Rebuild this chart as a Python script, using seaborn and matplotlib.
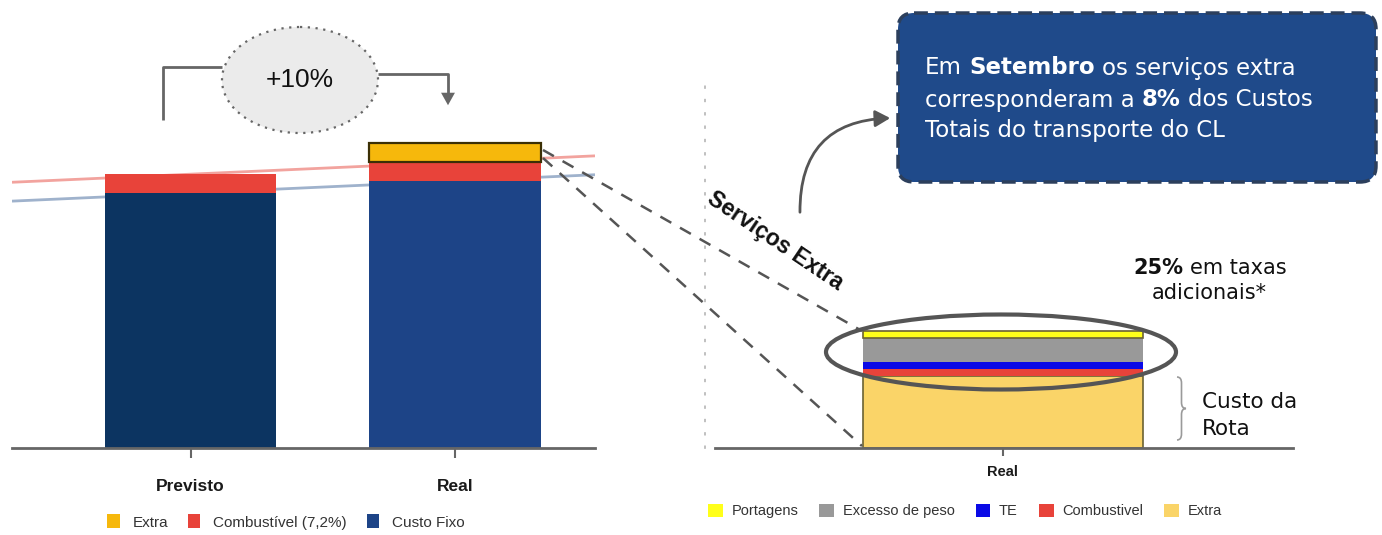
import numpy as np
import pandas as pd
import matplotlib
matplotlib.use("Agg")
import matplotlib.pyplot as plt
import seaborn as sns
from matplotlib.patches import Ellipse, FancyBboxPatch, FancyArrowPatch, Patch, PathPatch
from matplotlib.path import Path

# ---- Custos do transporte (índice: custo fixo previsto = 100) ----
cenarios = ["Previsto", "Real"]
custo_fixo = [100.0, 104.7]
combustivel = [7.4, 7.4]
extra = [0.0, 7.4]
legenda_esq = ["Extra", "Combustível (7,2%)", "Custo Fixo"]

# ---- Decomposição do mês real (de baixo para cima na pilha) ----
componentes = ["Extra", "Combustivel", "TE", "Excesso de peso", "Portagens"]
valores_comp = [72.0, 7.5, 7.0, 23.5, 7.0]
categoria_dir = ["Real"]
legenda_dir = ["Portagens", "Excesso de peso", "TE", "Combustivel", "Extra"]

# ---- Cores ----
cor_extra = "#f6b80c"
cor_comb = "#e8433a"
cores_fixo = {"Previsto": "#0c3461", "Real": "#1d4487"}
cores_comp = {"Portagens": "#ffff1a", "Excesso de peso": "#999999", "TE": "#0a0ae6",
              "Combustivel": "#e8433a", "Extra": "#fad468"}
cor_linha_verm = "#f2a39e"
cor_linha_azul = "#9fb2cc"

W, H = 1382, 535
sns.set_style("white")
plt.rcParams["font.family"] = ["Liberation Sans", "DejaVu Sans"]

fig = plt.figure(figsize=(W / 100, H / 100), dpi=100)


def px_axes(x0, y0, x1, y1):
    return fig.add_axes([x0 / W, 1 - y1 / H, (x1 - x0) / W, (y1 - y0) / H])


def barra(ax, cat, valor, base, cor, ordem, largura, borda=None, lw=0):
    sns.barplot(x=[cat], y=[valor], order=ordem, color=cor, saturation=1,
                width=largura, errorbar=None, bottom=base,
                edgecolor=borda if borda else "none", linewidth=lw, ax=ax)


# ================= gráfico da esquerda =================
axL = px_axes(12, 75, 595, 448)
wL = 0.647
for cen, fx, cb, ex in zip(cenarios, custo_fixo, combustivel, extra):
    barra(axL, cen, fx, 0, cores_fixo[cen], cenarios, wL)
    barra(axL, cen, cb, fx, cor_comb, cenarios, wL)
    if ex > 0:
        barra(axL, cen, ex, fx + cb, cor_extra, cenarios, wL, borda="#3b2f05", lw=1.6)

xlimL = (-0.675, 1.529)
axL.set_xlim(*xlimL)
axL.set_ylim(0, 146.3)

# linhas de tendência entre os dois cenários
xs = np.arange(len(cenarios))
xx = np.array(xlimL)
topo_fixo = np.array(custo_fixo)
topo_comb = topo_fixo + np.array(combustivel)
for topo, cor in [(topo_fixo, cor_linha_azul), (topo_comb, cor_linha_verm)]:
    a, b = np.polyfit(xs, topo, 1)
    axL.plot(xx, b + a * xx, color=cor, lw=2, zorder=0.5, solid_capstyle="butt")

# ================= gráfico da direita =================
axR = px_axes(705, 80, 1293, 448)
base = 0.0
for comp, val in zip(componentes, valores_comp):
    com_borda = comp in ("Portagens", "Extra")
    barra(axR, categoria_dir[0], val, base, cores_comp[comp], categoria_dir, 0.8,
          borda="#6b6233" if com_borda else None, lw=1.2 if com_borda else 0)
    base += val
axR.set_xlim(-0.851, 0.829)
axR.set_ylim(0, 368)

for ax, lbl_size, pad, tlen in [(axL, 12.5, 15, 7), (axR, 10.5, 6, 6)]:
    ax.set_xlabel("")
    ax.set_ylabel("")
    ax.set_yticks([])
    for s in ("top", "right"):
        ax.spines[s].set_visible(False)
    ax.spines["bottom"].set_color("#666666")
    ax.spines["bottom"].set_linewidth(2)
    ax.tick_params(axis="x", bottom=True, length=tlen, width=1.5, color="#666666",
                   pad=pad, labelsize=lbl_size, labelcolor="#1a1a1a")
    for t in ax.get_xticklabels():
        t.set_fontweight("bold")
    ax.patch.set_alpha(0)

axL.spines["left"].set_visible(False)
axR.spines["left"].set_color("#b5b5b5")
axR.spines["left"].set_linewidth(1.2)
axR.spines["left"].set_linestyle((0, (1, 7)))
axR.spines["bottom"].set_bounds(-0.823, 0.829)

# ---- legendas ----
hL = [Patch(facecolor=c, edgecolor="none") for c in [cor_extra, cor_comb, cores_fixo["Real"]]]
fig.legend(hL, legenda_esq, loc="center", bbox_to_anchor=(286 / W, 1 - 522 / H),
           ncol=3, frameon=False, fontsize=11, handlelength=0.8, handleheight=1.0,
           handletextpad=0.85, columnspacing=1.3, labelcolor="#333333")
hR = [Patch(facecolor=cores_comp[c], edgecolor="none") for c in legenda_dir]
fig.legend(hR, legenda_dir, loc="center", bbox_to_anchor=(965 / W, 1 - 511 / H),
           ncol=5, frameon=False, fontsize=10.5, handlelength=1.0, handleheight=1.0,
           handletextpad=0.6, columnspacing=1.45, labelcolor="#333333")

# ================= anotações (coordenadas em píxeis) =================
ov = fig.add_axes([0, 0, 1, 1])
ov.set_xlim(0, W)
ov.set_ylim(H, 0)
ov.axis("off")
ov.set_zorder(5)
ov.patch.set_alpha(0)

# variação +10%
ov.add_patch(Ellipse((300, 80), 156, 106, facecolor="#ebebeb", edgecolor="#666666",
                     lw=1.6, linestyle=(0, (1, 2.5))))
ov.text(300, 80, "+10%", ha="center", va="center", fontsize=19, color="#111111")
ov.plot([163, 163, 222], [120, 67, 67], color="#666666", lw=2, solid_capstyle="butt")
ov.plot([378, 448, 448], [74, 74, 96], color="#666666", lw=2, solid_capstyle="butt")
ov.add_patch(FancyArrowPatch((448, 94), (448, 108), arrowstyle="-|>,head_length=9,head_width=5",
                             color="#666666", lw=0, mutation_scale=1))

# ligação entre o bloco extra e o detalhe
ov.plot([543, 862], [150, 331], color="#555555", lw=1.8, linestyle=(0, (5, 4)))
ov.plot([543, 862], [158, 446], color="#555555", lw=1.8, linestyle=(0, (5, 4)))
ov.text(775, 241, "Serviços Extra", rotation=-34, rotation_mode="anchor",
        ha="center", va="center", fontsize=16.5, fontweight="bold", color="#111111")

# elipse sobre as taxas adicionais
ov.add_patch(Ellipse((1001, 352), 350, 75, facecolor="none", edgecolor="#555555", lw=3))

# seta curva para a caixa de texto
ov.add_patch(FancyArrowPatch((800, 215), (893, 118), connectionstyle="arc3,rad=-0.5",
                             arrowstyle="-|>,head_length=9,head_width=5",
                             color="#555555", lw=2, mutation_scale=1))

# caixa de texto
ov.add_patch(FancyBboxPatch((898, 13), 478, 169, boxstyle="round,pad=0,rounding_size=16",
                            facecolor="#1f4a8a", edgecolor="#2c3f5c", lw=2.5,
                            linestyle=(0, (4, 2))))


def linha_rica(x, y, partes, fs, family, cor, gap):
    prev = None
    for txt, peso in partes:
        if prev is None:
            prev = ov.text(x, y, txt, ha="left", va="center", fontsize=fs,
                           fontweight=peso, family=family, color=cor)
        else:
            prev = ov.annotate(txt, xy=(1, 0), xycoords=prev, xytext=(gap * fs, 0),
                               textcoords="offset points", ha="left", va="bottom",
                               fontsize=fs, fontweight=peso, family=family, color=cor)
    return prev


fs_box = 16.5
dv = ["DejaVu Sans"]
linha_rica(925, 68, [("Em", "normal"), ("Setembro", "bold"), ("os serviços extra", "normal")],
           fs_box, dv, "white", 0.318)
linha_rica(925, 100, [("corresponderam a", "normal"), ("8%", "bold"), ("dos Custos", "normal")],
           fs_box, dv, "white", 0.318)
linha_rica(925, 131, [("Totais do transporte do CL", "normal")], fs_box, dv, "white", 0.318)

linha_rica(1133, 268, [("25%", "bold"), ("em taxas", "normal")], 15, dv, "#111111", 0.318)
ov.text(1209, 293, "adicionais*", ha="center", va="center", fontsize=15, family=dv,
        color="#111111")

# chaveta do custo da rota
x0, y0, y1, w = 1177, 377, 440, 9
ym, q = (y0 + y1) / 2, 6
verts = [(x0, y0), (x0 + w / 2, y0), (x0 + w / 2, y0 + q), (x0 + w / 2, ym - q),
         (x0 + w / 2, ym), (x0 + w, ym), (x0 + w / 2, ym), (x0 + w / 2, ym + q),
         (x0 + w / 2, y1 - q), (x0 + w / 2, y1), (x0, y1)]
codes = [Path.MOVETO, Path.CURVE3, Path.CURVE3, Path.LINETO, Path.CURVE3, Path.CURVE3,
         Path.CURVE3, Path.CURVE3, Path.LINETO, Path.CURVE3, Path.CURVE3]
ov.add_patch(PathPatch(Path(verts, codes), facecolor="none", edgecolor="#9a9a9a", lw=1.2))
ov.text(1202, 402, "Custo da", ha="left", va="center", fontsize=15.5, family=dv, color="#111111")
ov.text(1202, 429, "Rota", ha="left", va="center", fontsize=15.5, family=dv, color="#111111")

fig.savefig("out.png", dpi=100)
